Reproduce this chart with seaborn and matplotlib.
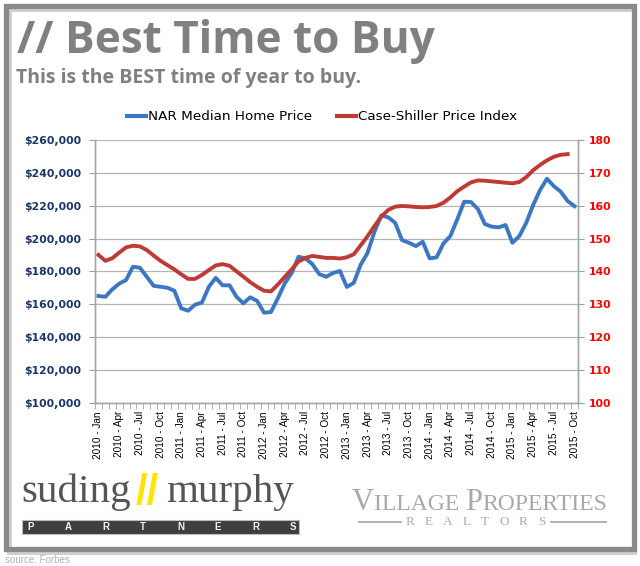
import numpy as np
import pandas as pd
import matplotlib
matplotlib.use("Agg")
import matplotlib.pyplot as plt
import seaborn as sns
from matplotlib.patches import Rectangle
from matplotlib.lines import Line2D
from matplotlib.ticker import StrMethodFormatter, FixedLocator, MultipleLocator

# ---------------- data ----------------
month_names = ["Jan", "Feb", "Mar", "Apr", "May", "Jun",
               "Jul", "Aug", "Sep", "Oct", "Nov", "Dec"]
years = [2010, 2011, 2012, 2013, 2014, 2015]
periods = [f"{y} - {m}" for y in years for m in month_names][:70]

tick_labels = ["2010 - Jan", "2010 - Apr", "2010 - Jul", "2010 - Oct",
               "2011 - Jan", "2011 - Apr", "2011 - Jul", "2011 - Oct",
               "2012 - Jan", "2012 - Apr", "2012 - Jul", "2012 - Oct",
               "2013 - Jan", "2013 - Apr", "2013 - Jul", "2013 - Oct",
               "2014 - Jan", "2014 - Apr", "2014 - Jul", "2014 - Oct",
               "2015 - Jan", "2015 - Apr", "2015 - Jul", "2015 - Oct"]

# NAR median home price (thousands of $)
nar_price_k = [165.0, 164.5, 169.0, 172.5, 174.7, 182.8, 182.2, 176.7, 171.2, 170.6,
               170.0, 168.2, 157.5, 156.0, 159.7, 161.0, 170.6, 176.0, 171.5, 171.5,
               164.5, 160.5, 164.2, 162.0, 154.8, 155.2, 163.6, 172.7, 179.0, 188.9,
               187.9, 184.4, 178.3, 176.7, 179.0, 180.2, 170.5, 173.0, 184.0, 191.2,
               204.1, 214.1, 212.9, 209.6, 199.0, 197.4, 195.4, 198.0, 187.9, 188.5,
               197.0, 201.5, 211.6, 222.4, 222.2, 217.9, 208.8, 207.2, 206.8, 208.2,
               197.4, 201.5, 209.6, 220.4, 229.5, 236.4, 231.9, 228.5, 222.8, 219.7]

# Case-Shiller price index (last month not yet published)
case_shiller = [145.0, 143.2, 144.0, 145.7, 147.3, 147.8, 147.6, 146.5, 144.8, 143.2,
                141.9, 140.6, 139.1, 137.7, 137.7, 138.9, 140.4, 141.8, 142.2, 141.7,
                140.0, 138.4, 136.7, 135.3, 134.1, 133.9, 136.0, 138.3, 140.6, 143.0,
                144.1, 144.7, 144.4, 144.1, 144.1, 143.9, 144.3, 145.2, 147.9, 150.7,
                153.8, 156.7, 158.7, 159.7, 159.9, 159.8, 159.6, 159.5, 159.6, 159.9,
                160.9, 162.5, 164.4, 165.8, 167.1, 167.7, 167.6, 167.4, 167.2, 167.0,
                166.8, 167.2, 168.7, 170.8, 172.4, 173.8, 174.9, 175.5, 175.7, np.nan]

df = pd.DataFrame({
    "idx": np.arange(len(periods)),
    "period": periods,
    "nar": np.array(nar_price_k) * 1000,
    "cs": case_shiller,
})

BLUE = "#3B77C2"
RED = "#BE3A35"
GRAY_TXT = "#808080"

# ---------------- figure ----------------
W, H = 640, 566
fig = plt.figure(figsize=(W / 100, H / 100), dpi=100)
fig.patch.set_facecolor("white")


def fx(px):
    return px / W


def fy(py):
    return 1 - py / H


# frame with shadow
fig.patches.append(Rectangle((fx(8.5), fy(552)), fx(634) - fx(8.5), fy(9) - fy(552),
                             transform=fig.transFigure, fill=False,
                             edgecolor="#d0d0d0", linewidth=3.6, zorder=0))
fig.patches.append(Rectangle((fx(5.5), fy(548.5)), fx(634) - fx(5.5), fy(5.5) - fy(548.5),
                             transform=fig.transFigure, fill=False,
                             edgecolor="#8a8a8a", linewidth=3.8, zorder=1))

ax = fig.add_axes([fx(95), fy(402.7), fx(578) - fx(95), fy(140) - fy(402.7)])
ax2 = ax.twinx()

sns.lineplot(data=df, x="idx", y="nar", ax=ax, color=BLUE, linewidth=2.8)
sns.lineplot(data=df.dropna(subset=["cs"]), x="idx", y="cs", ax=ax2, color=RED, linewidth=2.8)

for a in (ax, ax2):
    if a.get_legend() is not None:
        a.get_legend().remove()
    a.set_xlabel("")
    a.set_ylabel("")

ax.set_xlim(-0.5, len(periods) - 0.5)
ax.set_ylim(100000, 260000)
ax2.set_ylim(100, 180)
ax.yaxis.set_major_locator(MultipleLocator(20000))
ax2.yaxis.set_major_locator(MultipleLocator(10))
ax.yaxis.set_major_formatter(StrMethodFormatter("${x:,.0f}"))

ax.grid(axis="y", color="#b4b4b4", linewidth=0.9)
ax.grid(axis="x", visible=False)
ax2.grid(False)
ax.set_axisbelow(True)

tick_pos = list(range(0, len(periods), 3))
ax.xaxis.set_major_locator(FixedLocator(tick_pos))
ax.set_xticklabels(tick_labels, rotation=90, fontsize=7.2,
                   family=["Liberation Sans", "DejaVu Sans"], color="black")
ax.xaxis.set_minor_locator(FixedLocator(np.arange(-0.5, len(periods), 1.0)))
ax.tick_params(axis="x", which="major", length=0, pad=6)
ax.tick_params(axis="x", which="minor", length=4, color="#a0a0a0", direction="out")

ax.tick_params(axis="y", length=4, color="#a0a0a0", pad=6)
ax2.tick_params(axis="y", length=4, color="#a0a0a0", pad=4)
for lab in ax.get_yticklabels():
    lab.set_fontweight("bold")
    lab.set_fontsize(7.8)
    lab.set_color("#1B3668")
for lab in ax2.get_yticklabels():
    lab.set_fontweight("bold")
    lab.set_fontsize(7.8)
    lab.set_color("#FF0000")

for a in (ax, ax2):
    a.spines["top"].set_visible(False)
    for side in ("left", "right", "bottom"):
        a.spines[side].set_color("#a6a6a6")
        a.spines[side].set_linewidth(1.0)
ax.patch.set_alpha(0)

# legend
handles = [Line2D([], [], color=BLUE, linewidth=3.0),
           Line2D([], [], color=RED, linewidth=3.0)]
fig.legend(handles, ["NAR Median Home Price", "Case-Shiller Price Index"],
           loc="center", bbox_to_anchor=(fx(322), fy(117)), ncol=2, frameon=False,
           fontsize=9.7, handlelength=1.4, handletextpad=0.15, columnspacing=1.9)

# titles
title_font = ["Open Sans", "DejaVu Sans"]
fig.text(fx(17), fy(53), "// Best Time to Buy", fontsize=31.8, fontweight="bold",
         color=GRAY_TXT, family=title_font, va="baseline", ha="left")
fig.text(fx(16), fy(83), "This is the BEST time of year to buy.", fontsize=14,
         fontweight="bold", color=GRAY_TXT, family=title_font, va="baseline", ha="left")

# ---- suding // murphy logo ----
serif = ["Liberation Serif", "DejaVu Serif"]
fig.text(fx(21), fy(501.7), "suding", fontsize=29.5, color="#555555", family=serif,
         va="baseline", ha="left")
fig.text(fx(136), fy(504), "//", fontsize=30, color="#FFE400", fontweight="bold",
         family=["Liberation Sans", "DejaVu Sans"], va="baseline", ha="left")
fig.text(fx(166), fy(501.7), "murphy", fontsize=29.5, color="#555555", family=serif,
         va="baseline", ha="left")
fig.patches.append(Rectangle((fx(22), fy(534)), fx(299) - fx(22), fy(520) - fy(534),
                             transform=fig.transFigure, facecolor="#3f3f3f",
                             edgecolor="#bdbdbd", linewidth=0.8, zorder=2))
for k, ch in enumerate("PARTNERS"):
    fig.text(fx(31 + 37.4 * k), fy(527.3), ch, fontsize=7, fontweight="bold",
             color="#f0f0f0", family=["Liberation Sans", "DejaVu Sans"],
             va="center", ha="center", zorder=3)

# ---- Village Properties logo ----
r = fig.canvas.get_renderer()
xpos = 352.0
vp_color = "#a9a9a9"
for txt, size in [("V", 22.0), ("ILLAGE ", 17.0), ("P", 22.0), ("ROPERTIES", 17.0)]:
    t = fig.text(fx(xpos), fy(510.5), txt, fontsize=size, color=vp_color, family=serif,
                 va="baseline", ha="left")
    xpos += t.get_window_extent(renderer=r).width
for k, ch in enumerate("REALTORS"):
    fig.text(fx(410 + 18.8 * k), fy(522), ch, fontsize=9.5, color=vp_color, family=serif,
             va="center", ha="center")
fig.lines.append(Line2D([fx(359), fx(401)], [fy(522), fy(522)], transform=fig.transFigure,
                        color=vp_color, linewidth=1.3))
fig.lines.append(Line2D([fx(551), fx(606)], [fy(522), fy(522)], transform=fig.transFigure,
                        color=vp_color, linewidth=1.3))

# source
fig.text(fx(5), fy(563), "source: Forbes", fontsize=7, color="#b0b0b0",
         family=["Liberation Sans", "DejaVu Sans"], va="baseline", ha="left")

fig.savefig("out.png", dpi=100, facecolor="white")
